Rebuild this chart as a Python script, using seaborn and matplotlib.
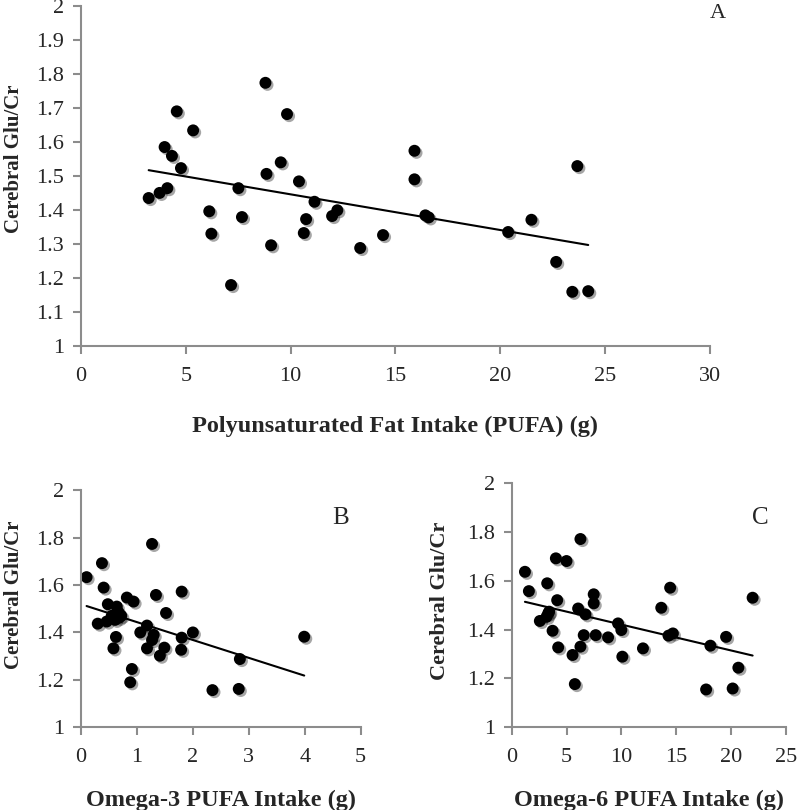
import numpy as np
import pandas as pd
import matplotlib
matplotlib.use("Agg")
import matplotlib.pyplot as plt
import matplotlib.patheffects as pe
from matplotlib.ticker import FormatStrFormatter, MultipleLocator
import seaborn as sns

# Panel A: total PUFA intake vs cerebral Glu/Cr
pufa = [3.23, 3.75, 4.12, 3.99, 4.34, 4.57, 4.77, 5.35, 6.12, 6.22, 7.16, 7.51,
        7.68, 8.80, 8.85, 9.07, 9.53, 9.83, 10.40, 10.63, 10.74, 11.14, 11.98, 12.23,
        13.32, 14.41, 15.91, 15.91, 16.43, 16.59, 20.38, 21.49, 22.67, 23.68, 23.44, 24.20]
glu_a = [1.435, 1.450, 1.464, 1.585, 1.559, 1.690, 1.523, 1.634, 1.396, 1.330, 1.179, 1.464,
         1.379, 1.774, 1.506, 1.296, 1.540, 1.682, 1.484, 1.332, 1.373, 1.424, 1.382, 1.399,
         1.288, 1.326, 1.574, 1.490, 1.384, 1.378, 1.335, 1.371, 1.247, 1.529, 1.159, 1.161]

# Panel B: omega-3 intake
omega3 = [0.10, 0.375, 0.405, 0.82, 0.94, 1.34, 1.80, 0.48, 0.64, 0.67, 0.68, 1.52,
          0.30, 0.46, 0.61, 1.18, 1.06, 1.30, 1.27, 1.80, 2.00, 0.625, 0.58, 1.18,
          1.49, 1.41, 1.79, 0.91, 0.88, 2.35, 2.82, 2.84, 3.99, 1.27, 0.55, 0.72]
glu_b = [1.633, 1.692, 1.589, 1.547, 1.530, 1.558, 1.572, 1.519, 1.509, 1.485, 1.462, 1.482,
         1.437, 1.446, 1.453, 1.429, 1.400, 1.390, 1.368, 1.378, 1.400, 1.381, 1.333, 1.333,
         1.336, 1.302, 1.327, 1.246, 1.190, 1.157, 1.162, 1.288, 1.382, 1.773, 1.470, 1.470]

# Panel C: omega-6 intake
omega6 = [1.21, 1.57, 3.24, 4.03, 5.00, 6.27, 4.15, 2.57, 3.18, 3.33, 3.42, 3.73,
          4.24, 5.55, 5.76, 6.06, 6.73, 6.57, 6.27, 7.48, 7.48, 7.66, 8.79, 9.70,
          10.00, 10.09, 11.97, 13.64, 14.45, 14.30, 14.70, 18.12, 17.73, 19.55, 20.15, 20.67,
          21.97]
glu_c = [1.636, 1.557, 1.589, 1.691, 1.680, 1.770, 1.520, 1.435, 1.452, 1.466, 1.473, 1.395,
         1.327, 1.296, 1.177, 1.486, 1.462, 1.377, 1.330, 1.544, 1.507, 1.377, 1.368, 1.425,
         1.398, 1.289, 1.323, 1.489, 1.571, 1.375, 1.384, 1.334, 1.155, 1.370, 1.159, 1.244,
         1.530]

sns.set_style("white")
plt.rcParams["font.family"] = ["Liberation Serif", "DejaVu Serif"]

fig = plt.figure(figsize=(7.97, 8.10), dpi=100)
ax_a = fig.add_axes([0.1016, 0.573, 0.789, 0.4196])
ax_b = fig.add_axes([0.1016, 0.102, 0.351, 0.293])
ax_c = fig.add_axes([0.642, 0.102, 0.344, 0.302])

shadow = [pe.SimplePatchShadow(offset=(1.5, -1.5), alpha=0.35), pe.Normal()]

# ax, x, y, xlabel, xlim, xstep, ystep, letter, letter pos, tick size, ylabel size,
# ylabel coords, letter size, xlabel pad
panels = [
    (ax_a, pufa, glu_a, "Polyunsaturated Fat Intake (PUFA) (g)", (0, 30), 5, 0.1,
     "A", (30.4, 1.978), 16, 15, (-0.0906, 0.55), 16, 22),
    (ax_b, omega3, glu_b, "Omega-3 PUFA Intake (g)", (0, 5), 1, 0.2,
     "B", (4.64, 1.883), 16, 15, (-0.2036, 0.557), 18, 16),
    (ax_c, omega6, glu_c, "Omega-6 PUFA Intake (g)", (0, 25), 5, 0.2,
     "C", (22.7, 1.856), 16, 16, (-0.225, 0.516), 18, 16),
]

for ax, xv, yv, xlabel, xlim, xstep, ystep, letter, lpos, fs, yfs, ycoord, lfs, xpad in panels:
    df = pd.DataFrame({"x": xv, "y": yv})
    sns.regplot(x="x", y="y", data=df, ax=ax, ci=None, color="black",
                scatter_kws={"s": 74, "alpha": 1, "linewidths": 0, "path_effects": shadow},
                line_kws={"linewidth": 1.5, "color": "black"})
    ax.set_xlim(*xlim)
    ax.set_ylim(1, 2)
    ax.xaxis.set_major_locator(MultipleLocator(xstep))
    ax.yaxis.set_major_locator(MultipleLocator(ystep))
    ax.yaxis.set_major_formatter(FormatStrFormatter("%g"))
    for side in ["top", "right"]:
        ax.spines[side].set_visible(False)
    for side in ["left", "bottom"]:
        ax.spines[side].set_color("#8c8c8c")
        ax.spines[side].set_linewidth(1.5)
    ax.tick_params(direction="out", length=6, width=1.5, color="#8c8c8c",
                   labelsize=fs, bottom=True, left=True)
    ax.tick_params(axis="x", pad=9)
    ax.tick_params(axis="y", pad=6)
    ax.set_xlabel(xlabel, fontsize=17.5, fontweight="bold", labelpad=xpad)
    ax.set_ylabel("Cerebral Glu/Cr", fontsize=yfs, fontweight="bold")
    ax.yaxis.set_label_coords(*ycoord)
    ax.text(lpos[0], lpos[1], letter, fontsize=lfs, ha="center", va="center", clip_on=False)

fig.savefig("out.png", dpi=100)
